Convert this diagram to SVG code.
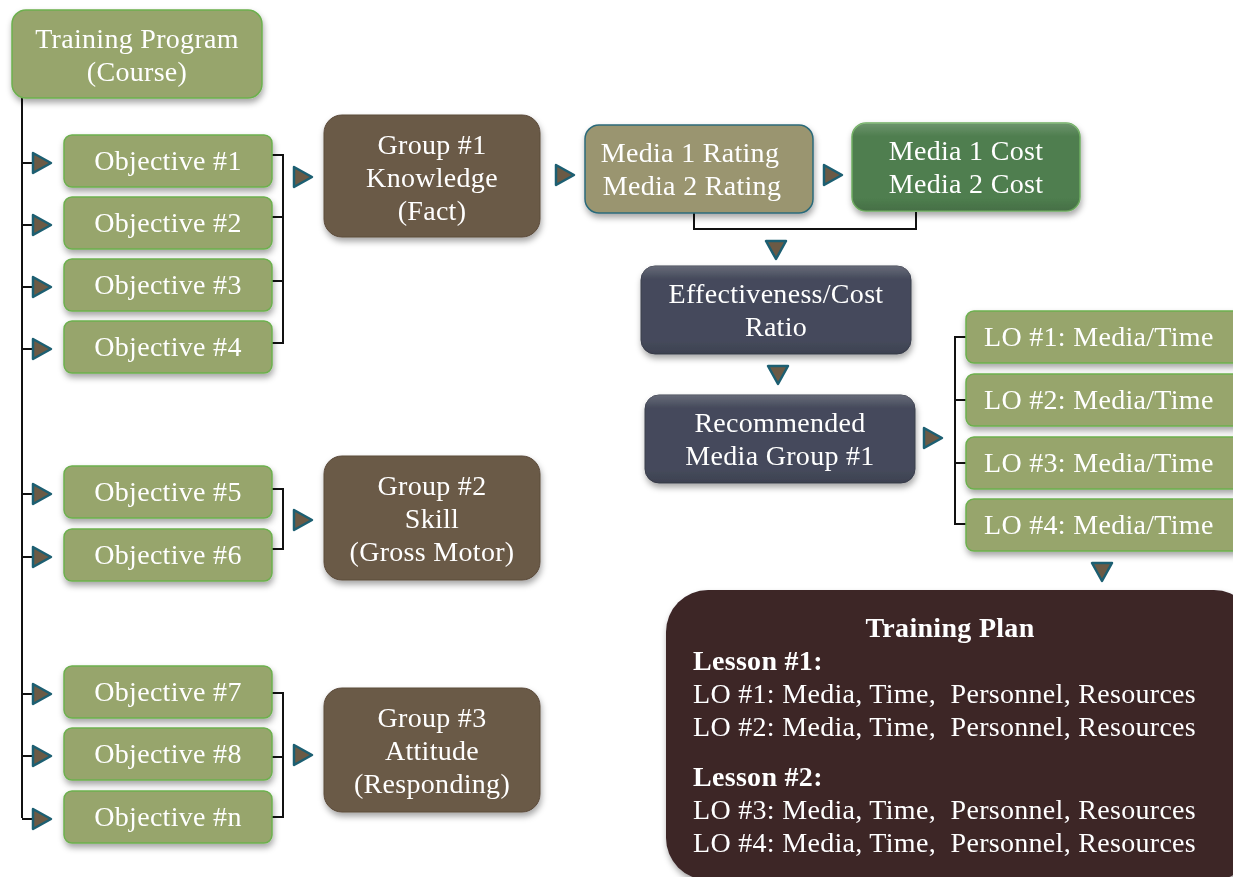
<svg xmlns="http://www.w3.org/2000/svg" width="1233" height="877" viewBox="0 0 1233 877">
<defs>
<filter id="sh" x="-10%" y="-10%" width="125%" height="135%">
<feDropShadow dx="1" dy="4" stdDeviation="3" flood-color="#000" flood-opacity="0.35"/>
</filter>
<linearGradient id="gl" x1="0" y1="0" x2="0" y2="1">
<stop offset="0" stop-color="#fff" stop-opacity="0.18"/>
<stop offset="0.15" stop-color="#fff" stop-opacity="0"/>
<stop offset="0.85" stop-color="#000" stop-opacity="0"/>
<stop offset="1" stop-color="#000" stop-opacity="0.12"/>
</linearGradient>
<path id="ar" d="M0,-10 L18,0 L0,10 Z"/>
<path id="ad" d="M-10,0 L10,0 L0,18 Z"/>
</defs>
<style>
text{font-family:"Liberation Serif","DejaVu Serif",serif;fill:#fff;font-size:28px;letter-spacing:0.3px;white-space:pre}
.c{text-anchor:middle}
.b{font-weight:bold}
.obj{fill:#97a56c;stroke:#6cb04e;stroke-width:1.5}
.grp{fill:#6b5a47;stroke:#5a4a3a;stroke-width:1}
.dk{fill:#454a5b;stroke:#3a3e4d;stroke-width:1}
.ln{fill:none;stroke:#111;stroke-width:2}
.arr{fill:#6b5a45;stroke:#1c5f72;stroke-width:2.5;stroke-linejoin:round}
</style>

<g id="connectors">
<path class="ln" d="M22,98 V818"/>
<path class="ln" d="M22,163 H34 M22,225 H34 M22,287 H34 M22,349 H34 M22,494 H34 M22,557 H34 M22,694 H34 M22,756 H34 M22,819 H34"/>
<path class="ln" d="M272,155 H283 V343 H272 M272,217 H283 M272,281 H283"/>
<path class="ln" d="M272,489 H283 V549 H272"/>
<path class="ln" d="M272,693 H283 V817 H272 M272,757 H283"/>
<path class="ln" d="M694,212 V229 H916 V212"/>
<path class="ln" d="M966,337 H955 V524 H966 M955,400 H966 M955,463 H966"/>
<g class="arr">
<use href="#ar" x="33" y="163"/><use href="#ar" x="33" y="225"/><use href="#ar" x="33" y="287"/><use href="#ar" x="33" y="349"/>
<use href="#ar" x="33" y="494"/><use href="#ar" x="33" y="557"/>
<use href="#ar" x="33" y="694"/><use href="#ar" x="33" y="756"/><use href="#ar" x="33" y="819"/>
<use href="#ar" x="294" y="177"/><use href="#ar" x="294" y="520"/><use href="#ar" x="294" y="755"/>
<use href="#ar" x="556" y="175"/><use href="#ar" x="824" y="175"/>
<use href="#ad" x="776" y="241"/><use href="#ad" x="778" y="366"/>
<use href="#ar" x="924" y="438"/>
<use href="#ad" x="1102" y="563"/>
</g>
</g>

<g id="training-program" filter="url(#sh)">
<rect class="obj" x="12" y="10" width="250" height="88" rx="14"/>
<text class="c" x="137" y="48">Training Program</text>
<text class="c" x="137" y="81">(Course)</text>
</g>

<g id="obj1" filter="url(#sh)"><rect class="obj" x="64" y="135" width="208" height="52" rx="8"/><text class="c" x="168" y="170">Objective #1</text></g>
<g id="obj2" filter="url(#sh)"><rect class="obj" x="64" y="197" width="208" height="52" rx="8"/><text class="c" x="168" y="232">Objective #2</text></g>
<g id="obj3" filter="url(#sh)"><rect class="obj" x="64" y="259" width="208" height="52" rx="8"/><text class="c" x="168" y="294">Objective #3</text></g>
<g id="obj4" filter="url(#sh)"><rect class="obj" x="64" y="321" width="208" height="52" rx="8"/><text class="c" x="168" y="356">Objective #4</text></g>
<g id="obj5" filter="url(#sh)"><rect class="obj" x="64" y="466" width="208" height="52" rx="8"/><text class="c" x="168" y="501">Objective #5</text></g>
<g id="obj6" filter="url(#sh)"><rect class="obj" x="64" y="529" width="208" height="52" rx="8"/><text class="c" x="168" y="564">Objective #6</text></g>
<g id="obj7" filter="url(#sh)"><rect class="obj" x="64" y="666" width="208" height="52" rx="8"/><text class="c" x="168" y="701">Objective #7</text></g>
<g id="obj8" filter="url(#sh)"><rect class="obj" x="64" y="728" width="208" height="52" rx="8"/><text class="c" x="168" y="763">Objective #8</text></g>
<g id="objn" filter="url(#sh)"><rect class="obj" x="64" y="791" width="208" height="52" rx="8"/><text class="c" x="168" y="826">Objective #n</text></g>

<g id="group1" filter="url(#sh)">
<rect class="grp" x="324" y="115" width="216" height="122" rx="18"/>
<text class="c" x="432" y="154">Group #1</text>
<text class="c" x="432" y="187">Knowledge</text>
<text class="c" x="432" y="220">(Fact)</text>
</g>
<g id="group2" filter="url(#sh)">
<rect class="grp" x="324" y="456" width="216" height="124" rx="18"/>
<text class="c" x="432" y="495">Group #2</text>
<text class="c" x="432" y="528">Skill</text>
<text class="c" x="432" y="561">(Gross Motor)</text>
</g>
<g id="group3" filter="url(#sh)">
<rect class="grp" x="324" y="688" width="216" height="124" rx="18"/>
<text class="c" x="432" y="727">Group #3</text>
<text class="c" x="432" y="760">Attitude</text>
<text class="c" x="432" y="793">(Responding)</text>
</g>

<g id="media-rating" filter="url(#sh)">
<rect x="585" y="125" width="228" height="88" rx="14" fill="#9a9570" stroke="#2c6a7a" stroke-width="1.5"/>
<text class="c" x="690" y="162">Media 1 Rating</text>
<text class="c" x="692" y="195">Media 2 Rating</text>
</g>
<g id="media-cost" filter="url(#sh)">
<rect x="852" y="123" width="228" height="88" rx="14" fill="#4f7e4f" stroke="#6fae62" stroke-width="1.5"/>
<rect x="852" y="123" width="228" height="88" rx="14" fill="url(#gl)"/>
<text class="c" x="966" y="160">Media 1 Cost</text>
<text class="c" x="966" y="193">Media 2 Cost</text>
</g>
<g id="eff-cost" filter="url(#sh)">
<rect class="dk" x="641" y="266" width="270" height="88" rx="14"/>
<rect x="641" y="266" width="270" height="88" rx="14" fill="url(#gl)"/>
<text class="c" x="776" y="303">Effectiveness/Cost</text>
<text class="c" x="776" y="336">Ratio</text>
</g>
<g id="recommended" filter="url(#sh)">
<rect class="dk" x="645" y="395" width="270" height="88" rx="14"/>
<rect x="645" y="395" width="270" height="88" rx="14" fill="url(#gl)"/>
<text class="c" x="780" y="432">Recommended</text>
<text class="c" x="780" y="465">Media Group #1</text>
</g>

<g id="lo1" filter="url(#sh)"><rect class="obj" x="966" y="311" width="275" height="52" rx="8"/><text x="984" y="346">LO #1: Media/Time</text></g>
<g id="lo2" filter="url(#sh)"><rect class="obj" x="966" y="374" width="275" height="52" rx="8"/><text x="984" y="409">LO #2: Media/Time</text></g>
<g id="lo3" filter="url(#sh)"><rect class="obj" x="966" y="437" width="275" height="52" rx="8"/><text x="984" y="472">LO #3: Media/Time</text></g>
<g id="lo4" filter="url(#sh)"><rect class="obj" x="966" y="499" width="275" height="52" rx="8"/><text x="984" y="534">LO #4: Media/Time</text></g>

<g id="training-plan" filter="url(#sh)">
<rect x="666" y="590" width="590" height="290" rx="42" fill="#3c2628"/>
<text class="c b" x="950" y="637">Training Plan</text>
<text class="b" x="693" y="670">Lesson #1:</text>
<text x="693" y="703">LO #1: Media, Time,  Personnel, Resources</text>
<text x="693" y="736">LO #2: Media, Time,  Personnel, Resources</text>
<text class="b" x="693" y="786">Lesson #2:</text>
<text x="693" y="819">LO #3: Media, Time,  Personnel, Resources</text>
<text x="693" y="852">LO #4: Media, Time,  Personnel, Resources</text>
</g>
</svg>
